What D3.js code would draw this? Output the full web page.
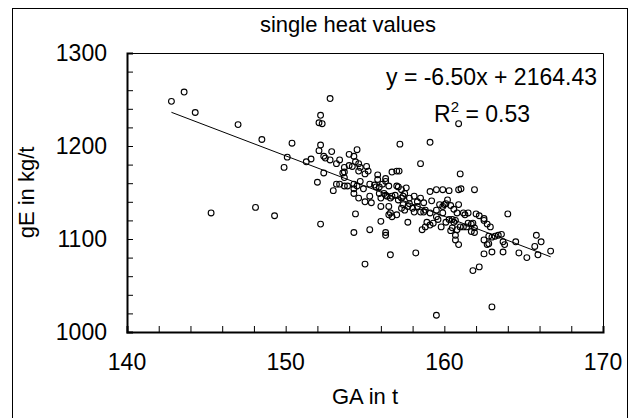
<!DOCTYPE html>
<html>
<head>
<meta charset="utf-8">
<script src="https://cdn.jsdelivr.net/npm/d3@7"></script>
<style>
	html, body { margin: 0; padding: 0; background: #fff; }
	svg text { font-family: 'Liberation Sans', Arial, sans-serif; fill: #000; }
</style>
</head>
<body>
<div id="root"></div>
<script>
const title		= 'single heat values';
const x_title	= 'GA in t';
const y_title	= 'gE in kg/t';
const x_ticks	= [140, 150, 160, 170];
const y_ticks	= [1000, 1100, 1200, 1300];

const slope		= -6.50;
const intercept	= 2164.43;
const r_square	= 0.53;

// GA in t
const ga = [
	142.8, 143.6, 144.3, 147.0, 148.5, 145.3, 148.1, 149.3,
	152.8, 152.2, 152.1, 152.3, 150.4, 150.1, 149.9, 151.3, 151.6, 152.2, 152.1, 152.4,
	152.5, 152.9, 152.8, 152.4, 153.4, 153.2, 154.0, 154.5, 154.3, 154.4, 154.0, 154.2,
	153.7, 153.7, 153.6, 153.7, 154.6, 154.7, 154.6, 155.1, 155.2, 155.0, 155.8, 155.8,
	156.3, 157.2, 156.7, 157.0, 157.15, 158.5, 159.1,
	152.0, 153.0, 153.2, 153.4, 153.7, 153.9, 154.3, 154.3, 154.5, 154.7, 154.9, 155.3,
	155.6, 155.7, 155.9, 156.1, 156.3, 156.5, 157.0, 157.1, 157.3, 157.6, 159.1, 159.5,
	159.9, 160.3, 154.3, 154.6, 155.0, 155.3, 155.4, 155.9, 156.0, 156.2, 156.3, 156.4,
	156.6, 156.7, 156.9, 157.1, 157.3, 157.4, 157.5, 157.8, 158.1, 158.3, 158.5, 158.7,
	159.2, 159.7, 160.0, 160.2, 152.2, 154.4, 154.3, 155.3, 156.0, 156.0, 156.3, 156.3,
	156.5, 156.6, 156.5, 156.7, 157.0, 157.3, 157.4, 157.5, 157.7, 157.8, 158.0, 158.1,
	158.3, 158.5, 158.7, 158.8, 159.1, 157.7, 158.6, 158.8, 158.9, 159.1, 159.3, 159.5,
	159.6, 159.8, 159.9, 160.1, 160.3, 160.4, 159.5, 159.9, 160.1, 156.6, 155.0, 158.2,
	159.5,
	160.9, 161.05, 161.9, 160.4, 160.6, 160.9, 161.2, 161.3, 160.8, 160.6, 160.5, 160.7,
	160.5, 160.7, 160.7, 160.9, 160.8, 161.0, 161.2, 161.4, 161.5, 161.7, 161.8, 161.9,
	161.7, 161.9, 161.5, 162.0, 162.2, 162.5, 162.5, 162.7, 162.9, 164.0, 162.5, 162.7,
	162.8, 162.5, 163.0, 162.8, 163.0, 163.2, 163.4, 163.6, 163.7, 163.8, 163.7, 164.5,
	164.7, 165.2, 165.8, 166.1, 165.7, 165.9, 166.7, 161.8, 162.2, 163.0,
	161.0, 160.9
];

// gE in kg/t, same order as ga
const ge = [
	1248, 1258, 1236, 1223, 1207, 1128, 1134, 1125,
	1251, 1233, 1225, 1224, 1203, 1188, 1177, 1183, 1186, 1201, 1195, 1189,
	1187, 1194, 1185, 1171, 1185, 1181, 1191, 1196, 1189, 1183, 1179, 1178,
	1172, 1177, 1171, 1166, 1181, 1177, 1173, 1178, 1173, 1170, 1169, 1164,
	1165, 1202, 1172, 1173, 1173, 1181, 1204,
	1161, 1152, 1159, 1159, 1157, 1157, 1159, 1154, 1157, 1162, 1154, 1159,
	1158, 1156, 1156, 1159, 1162, 1157, 1157, 1156, 1153, 1155, 1151, 1153,
	1153, 1152, 1149, 1144, 1140, 1146, 1139, 1149, 1144, 1149, 1147, 1146,
	1144, 1146, 1147, 1142, 1144, 1146, 1149, 1144, 1146, 1140, 1144, 1139,
	1141, 1137, 1137, 1142, 1116, 1127, 1107, 1110, 1135, 1119, 1107, 1104,
	1135, 1128, 1126, 1124, 1126, 1133, 1137, 1131, 1135, 1138, 1133, 1129,
	1135, 1129, 1129, 1131, 1128, 1118, 1110, 1113, 1118, 1115, 1117, 1124,
	1121, 1113, 1128, 1118, 1121, 1109, 1131, 1135, 1138, 1083, 1073, 1085,
	1018,
	1153, 1154, 1153, 1136, 1132, 1137, 1128, 1126, 1128, 1118, 1121, 1120,
	1112, 1104, 1099, 1094, 1110, 1113, 1113, 1113, 1117, 1116, 1117, 1112,
	1108, 1107, 1128, 1127, 1125, 1122, 1120, 1116, 1113, 1127, 1099, 1094,
	1095, 1084, 1086, 1103, 1102, 1103, 1104, 1105, 1097, 1094, 1086, 1097,
	1085, 1080, 1104, 1097, 1092, 1083, 1087, 1066, 1070, 1027,
	1170, 1224
];

const width		= 632;
const height	= 418;
const plot		= { left: 127, right: 603, top: 53, bottom: 332 };

const svg = d3.select('#root').append('svg')
	.attr('width', width)
	.attr('height', height);

svg.append('rect')
	.attr('x', 12.5).attr('y', 8.5)
	.attr('width', 615).attr('height', 430)
	.attr('fill', '#fff')
	.attr('stroke', '#000')
	.attr('stroke-width', 1);

const x = d3.scaleLinear().domain([140, 170]).range([plot.left, plot.right]);
const y = d3.scaleLinear().domain([1000, 1300]).range([plot.bottom, plot.top]);

// frame: thin top/right, heavier axes
svg.append('path')
	.attr('d', 'M' + plot.left + ',' + (plot.top + 0.5) + 'H' + (plot.right + 0.5) + 'V' + plot.bottom)
	.attr('fill', 'none').attr('stroke', '#000').attr('stroke-width', 1);

const xAxis = svg.append('g')
	.attr('transform', 'translate(0,' + plot.bottom + ')')
	.call(d3.axisTop(x).tickValues(d3.range(140, 171, 2)).tickSize(6).tickFormat(''));
const yAxis = svg.append('g')
	.attr('transform', 'translate(' + plot.left + ',0)')
	.call(d3.axisRight(y).tickValues(d3.range(1000, 1301, 20)).tickSize(6).tickFormat(''));

[xAxis, yAxis].forEach((g) => {
	g.select('.domain').attr('stroke', '#000').attr('stroke-width', 2);
	g.selectAll('.tick line').attr('stroke', '#000').attr('stroke-width', 1);
});

svg.selectAll('.xlabel')
	.data(x_ticks).enter().append('text')
	.attr('class', 'xlabel')
	.attr('x', (d) => x(d))
	.attr('y', plot.bottom + 38)
	.attr('text-anchor', 'middle')
	.style('font-size', '23px')
	.text((d) => d);

svg.selectAll('.ylabel')
	.data(y_ticks).enter().append('text')
	.attr('class', 'ylabel')
	.attr('x', plot.left - 20)
	.attr('y', (d) => y(d) + 8)
	.attr('text-anchor', 'end')
	.style('font-size', '23px')
	.text((d) => d);

svg.append('text')
	.attr('x', 348).attr('y', 32)
	.attr('text-anchor', 'middle')
	.style('font-size', '22px')
	.text(title);

svg.append('text')
	.attr('x', (plot.left + plot.right) / 2).attr('y', 404)
	.attr('text-anchor', 'middle')
	.style('font-size', '22px')
	.text(x_title);

svg.append('text')
	.attr('transform', 'translate(34,' + ((plot.top + plot.bottom) / 2) + ') rotate(-90)')
	.attr('text-anchor', 'middle')
	.style('font-size', '22px')
	.text(y_title);

// points
const data = ga.map((d, i) => ({ ga: d, ge: ge[i] }));

svg.append('g').selectAll('circle')
	.data(data).enter().append('circle')
	.attr('cx', (d) => x(d.ga))
	.attr('cy', (d) => y(d.ge))
	.attr('r', 2.9)
	.attr('fill', 'none')
	.attr('stroke', '#000')
	.attr('stroke-width', 1.1);

// trend line over the data range
const ext = d3.extent(ga);
svg.append('line')
	.attr('x1', x(ext[0])).attr('y1', y(slope * ext[0] + intercept))
	.attr('x2', x(ext[1])).attr('y2', y(slope * ext[1] + intercept))
	.attr('stroke', '#000')
	.attr('stroke-width', 1);

svg.append('text')
	.attr('x', 597).attr('y', 85)
	.attr('text-anchor', 'end')
	.style('font-size', '23px')
	.text('y = ' + slope.toFixed(2) + 'x + ' + intercept.toFixed(2));

const r2 = svg.append('text')
	.attr('x', 530).attr('y', 122)
	.attr('text-anchor', 'end')
	.style('font-size', '23px');
r2.append('tspan').text('R');
r2.append('tspan').attr('dy', -10).style('font-size', '15px').text('2');
r2.append('tspan').attr('dy', 10).text(' = ' + r_square.toFixed(2));
</script>
</body>
</html>
